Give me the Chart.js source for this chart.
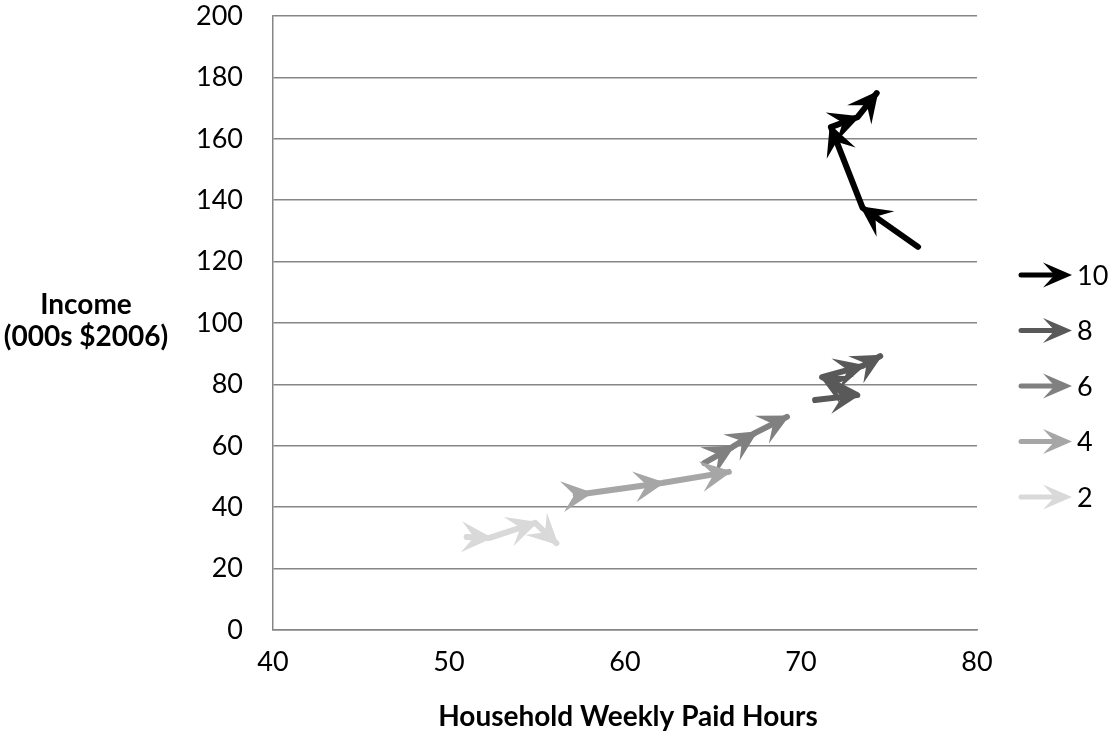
<!DOCTYPE html>
<html>
<head>
<meta charset="utf-8">
<title>Income vs Household Weekly Paid Hours</title>
<script src="https://cdn.jsdelivr.net/npm/chart.js@4.4.1/dist/chart.umd.min.js"></script>
<style>
  html, body { margin: 0; padding: 0; background: #ffffff; }
  canvas { display: block; }
</style>
</head>
<body>
<canvas id="grafico-renda" width="1112" height="754"></canvas>
<script>
// Dados (horas semanais x renda em milhares de $2006)
const seriesLabels = ['2', '4', '6', '8', '10'];
const seriesColors = ['#d9d9d9', '#a6a6a6', '#808080', '#595959', '#000000'];

const hours2 = [51.0, 52.3, 54.9, 56.1];
const income2 = [30.3, 30.0, 34.9, 28.3];

const hours4 = [57.2, 58.0, 62.1, 65.9];
const income4 = [44.0, 44.6, 47.9, 51.5];

const hours6 = [64.5, 66.1, 67.4, 69.2];
const income6 = [54.4, 59.6, 64.2, 69.4];

const hours8 = [70.8, 73.2, 71.2, 73.5, 74.5];
const income8 = [74.9, 76.5, 82.4, 86.0, 89.2];

const hours10 = [76.65, 73.5, 71.7, 73.2, 74.3];
const income10 = [124.8, 137.5, 163.8, 167.0, 174.9];

const xTicks = [40, 50, 60, 70, 80];
const yTicks = [0, 20, 40, 60, 80, 100, 120, 140, 160, 180, 200];

const xTitle = 'Household Weekly Paid Hours';
const yTitle = ['Income', '(000s $2006)'];

function toPoints(xs, ys) {
    return xs.map(function(x, i) { return { x: x, y: ys[i] }; });
}

const allHours = [hours2, hours4, hours6, hours8, hours10];
const allIncome = [income2, income4, income6, income8, income10];

const datasets = seriesLabels.map(function(label, i) {
    return {
        label: label,
        data: toPoints(allHours[i], allIncome[i]),
        showLine: true,
        borderColor: seriesColors[i],
        backgroundColor: seriesColors[i],
        borderWidth: 6,
        borderCapStyle: 'round',
        borderJoinStyle: 'round',
        pointRadius: 0,
        pointHoverRadius: 0,
        tension: 0
    };
});

// ponta de seta estilo "stealth"
function drawArrowHead(ctx, fromX, fromY, toX, toY, len, half, color) {
    const dx = toX - fromX, dy = toY - fromY;
    const d = Math.hypot(dx, dy) || 1;
    const ux = dx / d, uy = dy / d;
    const nx = -uy, ny = ux;
    const tipX = toX + ux * 3, tipY = toY + uy * 3;
    const bx = tipX - ux * len, by = tipY - uy * len;
    ctx.beginPath();
    ctx.moveTo(tipX, tipY);
    ctx.lineTo(bx + nx * half, by + ny * half);
    ctx.lineTo(tipX - ux * len * 0.6, tipY - uy * len * 0.6);
    ctx.lineTo(bx - nx * half, by - ny * half);
    ctx.closePath();
    ctx.fillStyle = color;
    ctx.fill();
}

const arrowPlugin = {
    id: 'arrows',
    afterDatasetDraw: function(chart, args) {
        const pts = args.meta.data;
        const color = chart.data.datasets[args.index].borderColor;
        const ctx = chart.ctx;
        ctx.save();
        for (let i = 1; i < pts.length; i++) {
            drawArrowHead(ctx, pts[i - 1].x, pts[i - 1].y, pts[i].x, pts[i].y, 31, 15.5, color);
        }
        ctx.restore();
    },
    afterDraw: function(chart) {
        const ctx = chart.ctx;
        const area = chart.chartArea;
        ctx.save();
        // títulos dos eixos
        ctx.fillStyle = '#000000';
        ctx.font = 'bold 28px Lato';
        ctx.textAlign = 'center';
        ctx.textBaseline = 'middle';
        ctx.fillText(yTitle[0], 86, 305);
        ctx.fillText(yTitle[1], 86, 337);
        ctx.fillText(xTitle, (area.left + area.right) / 2 + 3, 717);

        // legenda à direita, ordem invertida
        ctx.font = '27px Lato';
        ctx.textAlign = 'left';
        const ds = chart.data.datasets;
        for (let k = 0; k < ds.length; k++) {
            const d = ds[ds.length - 1 - k];
            const y = 275 + k * 55.5;
            ctx.strokeStyle = d.borderColor;
            ctx.lineWidth = 5;
            ctx.lineCap = 'round';
            ctx.beginPath();
            ctx.moveTo(1021, y);
            ctx.lineTo(1055, y);
            ctx.stroke();
            drawArrowHead(ctx, 1020, y, 1069, y, 29, 12.5, d.borderColor);
            ctx.fillStyle = '#000000';
            ctx.fillText(d.label, 1077, y + 1);
        }
        ctx.restore();
    }
};

const ctx = document.getElementById('grafico-renda').getContext('2d');
const rendaChart = new Chart(ctx, {
    type: 'scatter',
    data: { datasets: datasets },
    options: {
        responsive: false,
        devicePixelRatio: 1,
        animation: false,
        layout: {
            padding: { left: 0, right: 135, top: 16, bottom: 0 }
        },
        plugins: {
            legend: { display: false },
            tooltip: { enabled: false }
        },
        scales: {
            x: {
                type: 'linear',
                min: xTicks[0],
                max: xTicks[xTicks.length - 1],
                afterBuildTicks: function(scale) {
                    scale.ticks = xTicks.map(function(v) { return { value: v }; });
                },
                afterFit: function(scale) {
                    scale.height = 124;
                    scale.paddingLeft = 0;
                    scale.paddingRight = 0;
                },
                grid: { display: false, drawTicks: false },
                border: { display: true, color: '#868686', width: 1.5 },
                ticks: {
                    padding: 16,
                    color: '#000000',
                    font: { family: 'Lato', size: 27 }
                }
            },
            y: {
                type: 'linear',
                min: yTicks[0],
                max: yTicks[yTicks.length - 1],
                afterBuildTicks: function(scale) {
                    scale.ticks = yTicks.map(function(v) { return { value: v }; });
                },
                afterFit: function(scale) {
                    scale.width = 273;
                    scale.paddingTop = 0;
                    scale.paddingBottom = 0;
                },
                grid: { color: '#868686', lineWidth: 1.5, drawTicks: false },
                border: { display: true, color: '#868686', width: 1.5 },
                ticks: {
                    padding: 30,
                    color: '#000000',
                    font: { family: 'Lato', size: 27 }
                }
            }
        }
    },
    plugins: [arrowPlugin]
});
</script>
</body>
</html>
